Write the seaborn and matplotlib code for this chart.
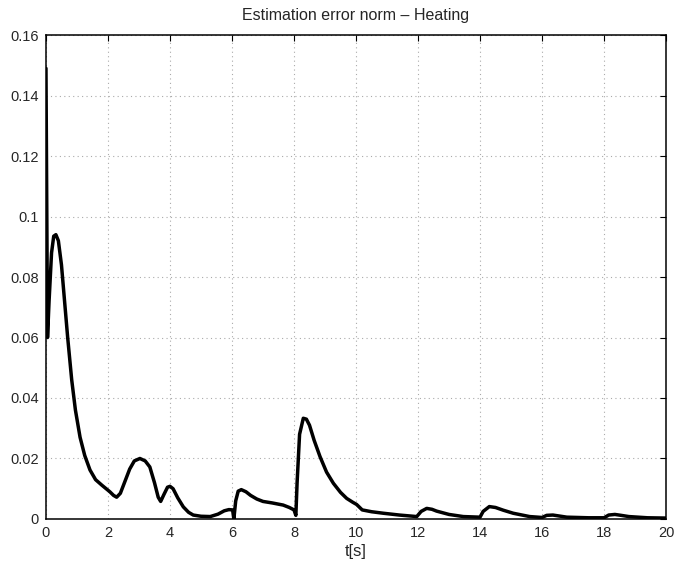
import seaborn as sns
import pandas as pd
import numpy as np
import matplotlib
matplotlib.use('Agg')
import matplotlib.pyplot as plt
import matplotlib.ticker as ticker

# values
t_s=[0.0,0.05,0.1,0.18,0.25,0.32,0.4,0.5,0.6,0.7,0.83,0.95,1.1,1.25,1.42,1.6,1.8,2.06,2.18,2.28,
     2.4,2.55,2.7,2.85,3.03,3.2,3.35,3.5,3.62,3.7,3.8,3.92,4.0,4.1,4.25,4.43,4.6,4.75,5.0,5.3,
     5.55,5.75,5.9,6.02,6.06,6.12,6.2,6.3,6.45,6.6,6.8,7.0,7.3,7.65,7.85,8.0,8.06,8.1,8.18,8.3,
     8.4,8.5,8.65,8.84,9.05,9.27,9.5,9.7,9.9,10.02,10.2,10.5,10.88,11.4,11.96,12.1,12.28,12.45,12.6,13.0,
     13.46,14.0,14.1,14.3,14.5,14.75,15.07,15.6,16.0,16.15,16.35,16.8,17.5,18.0,18.15,18.35,18.55,18.8,19.4,20.0]
err_norm=[0.149,0.060,0.072,0.088,0.0935,0.094,0.092,0.084,0.072,0.060,0.046,0.036,0.027,0.021,0.0162,0.013,0.0112,0.009,0.0078,0.0072,
          0.0085,0.0125,0.0165,0.0192,0.0200,0.0192,0.0172,0.0120,0.0072,0.0058,0.0080,0.0105,0.0108,0.0100,0.0070,0.0040,0.0022,0.0013,0.0009,0.0008,
          0.0016,0.0027,0.0031,0.0030,0.0,0.006,0.0092,0.0097,0.0090,0.0078,0.0066,0.0058,0.0053,0.0046,0.0038,0.0030,0.0012,0.012,0.028,0.0333,
          0.0330,0.031,0.026,0.0206,0.0155,0.0118,0.0088,0.0068,0.0055,0.0048,0.0030,0.0024,0.0019,0.0013,0.0008,0.0025,0.0035,0.0032,0.0026,0.0015,
          0.0008,0.0006,0.0025,0.0041,0.0038,0.0029,0.0019,0.0008,0.0005,0.0012,0.0013,0.0006,0.0004,0.0004,0.0013,0.0015,0.0012,0.0008,0.0004,0.0003]

x_ticks=list(range(0,21,2))
y_ticks=[0,0.02,0.04,0.06,0.08,0.1,0.12,0.14,0.16]

df=pd.DataFrame({'t':t_s,'e':err_norm})

sns.set_style('white')
plt.rcParams['font.family']=['Liberation Sans','DejaVu Sans']
plt.rcParams['xtick.direction']='in'
plt.rcParams['ytick.direction']='in'

fig=plt.figure(figsize=(6.74,5.68),dpi=100)
ax=fig.add_axes([0.0682,0.0863,0.92,0.852])

sns.lineplot(data=df,x='t',y='e',ax=ax,color='black',linewidth=2.5,sort=False,estimator=None)
ax.lines[0].set_solid_joinstyle('round')
ax.lines[0].set_solid_capstyle('round')

ax.set_xlim(0,20)
ax.set_ylim(0,0.16)
ax.set_xticks(x_ticks)
ax.set_yticks(y_ticks)
ax.yaxis.set_major_formatter(ticker.FuncFormatter(lambda v,p:'%g'%round(v,3)))
ax.tick_params(axis='both',which='both',top=True,right=True,length=4,width=0.8,
               labelsize=10.5,color='black',pad=5)
ax.grid(True,linestyle=(0,(1,3)),color='#aaaaaa',linewidth=0.8)
for s in ax.spines.values():
    s.set_color('black')
    s.set_linewidth(1.1)

ax.set_title('Estimation error norm \u2013 Heating',fontsize=11.5,pad=11)
ax.set_xlabel('t[s]',fontsize=12,labelpad=3)
ax.set_ylabel('')

fig.savefig('out.png',dpi=100)
